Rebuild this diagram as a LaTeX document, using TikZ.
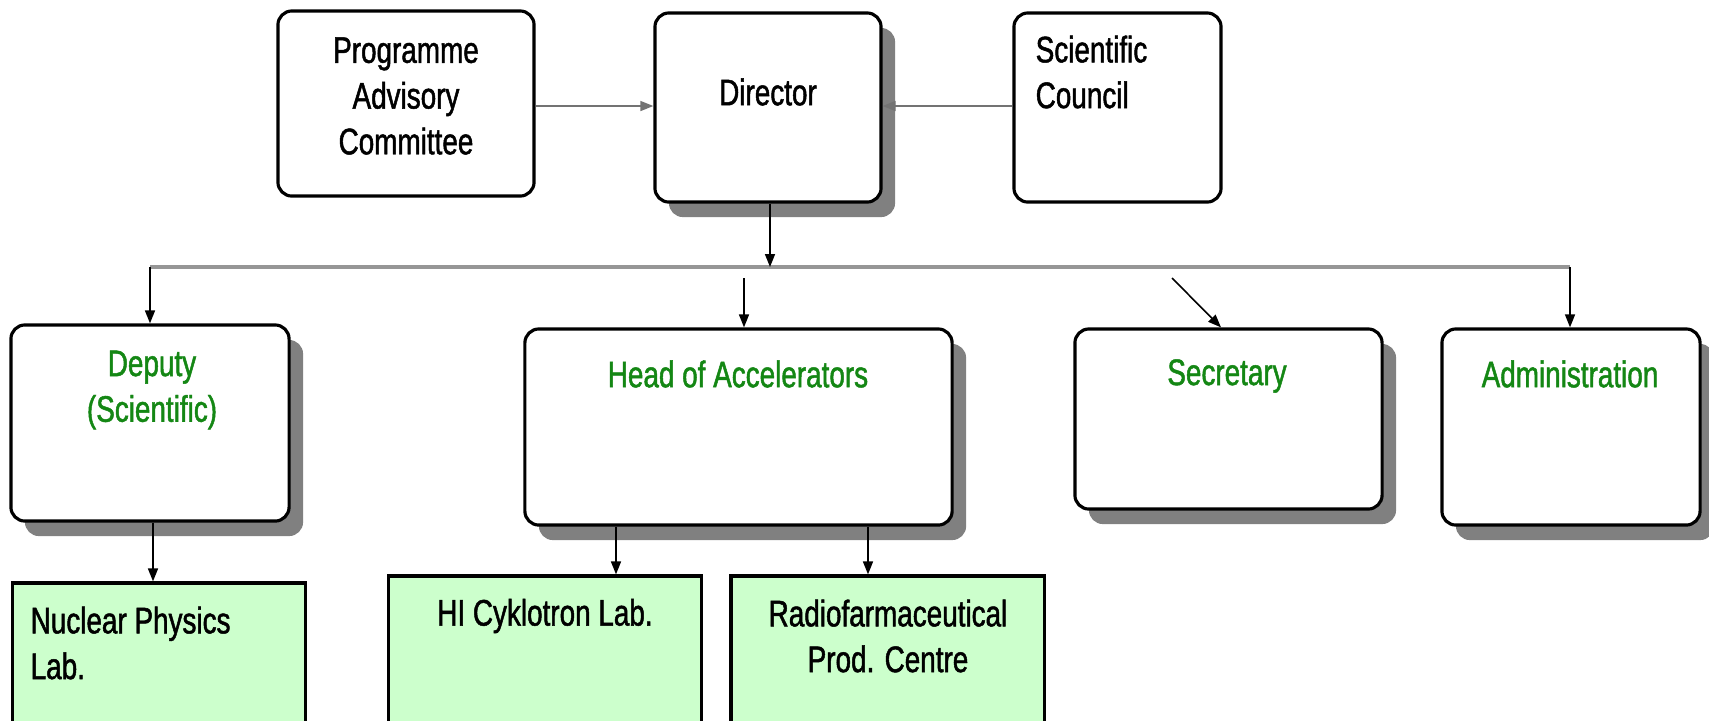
\documentclass[tikz,border=0pt]{standalone}
\usepackage{fontspec}
\setmainfont[FakeStretch=0.755,FakeBold=1.3]{Liberation Sans}
\usetikzlibrary{arrows.meta}
\definecolor{txtgreen}{RGB}{20,135,20}
\definecolor{labgreen}{RGB}{204,255,204}
\definecolor{shadowgray}{RGB}{128,128,128}
\definecolor{busgray}{RGB}{150,150,150}
\tikzset{
  rbox/.style={draw=black, line width=0.9pt, fill=white, rounded corners=0.14cm, inner sep=0pt},
  shbox/.style={rbox, preaction={fill=shadowgray, transform canvas={xshift=0.14cm, yshift=-0.15cm}}},
  labbox/.style={draw=black, line width=0.9pt, fill=labgreen, inner sep=0pt},
  txt/.style={font=\fontsize{10.5}{13}\selectfont, inner sep=0pt},
  gtxt/.style={txt, text=txtgreen},
  conn/.style={line width=0.45pt, -{Triangle[length=1.3mm,width=1mm]}},
  bus/.style={draw=busgray, line width=1.3pt}
}
\begin{document}
\begin{tikzpicture}[x=0.01cm,y=-0.01cm]
\useasboundingbox (0,0) rectangle (1709,720);
\clip (0,0) rectangle (1709,720);
% top row
\node[rbox, minimum width=2.56cm, minimum height=1.85cm] (pac) at (406,103.5) {};
\node[shbox, minimum width=2.26cm, minimum height=1.89cm] (dir) at (768,107.5) {};
\node[rbox, minimum width=2.07cm, minimum height=1.89cm] (sc) at (1117.5,107.5) {};
\node[txt, align=center] (pact) at (406,96) {Programme\\Advisory\\Committee};
\node[txt] (dirt) at (768,92) {Director};
\node[txt, align=left, anchor=west] (sct) at (1035,72) {Scientific\\Council};
% second row
\node[shbox, minimum width=2.78cm, minimum height=1.96cm] (dep) at (150,423) {};
\node[shbox, minimum width=4.27cm, minimum height=1.96cm] (hoa) at (738.5,427) {};
\node[shbox, minimum width=3.07cm, minimum height=1.80cm] (sec) at (1228.5,419) {};
\node[shbox, minimum width=2.58cm, minimum height=1.96cm] (adm) at (1571,427) {};
\node[gtxt, align=center] (dept) at (152,390) {Deputy\\(Scientific)};
\node[gtxt] (hoat) at (738,374) {Head of Accelerators};
\node[gtxt] (sect) at (1227,376) {Secretary};
\node[gtxt] (admt) at (1570,374) {Administration};
% labs
\node[labbox, minimum width=2.92cm, minimum height=1.60cm] (npl) at (159,663) {};
\node[labbox, minimum width=3.12cm, minimum height=1.67cm] (hi) at (545,659.5) {};
\node[labbox, minimum width=3.13cm, minimum height=1.67cm] (rpc) at (887.5,659.5) {};
\node[txt, align=left, anchor=west] (nplt) at (30,643) {Nuclear Physics\\Lab.};
\node[txt] (hit) at (545,616) {HI Cyklotron Lab.};
\node[txt, align=center] (rpct) at (888,636) {Radiofarmaceutical\\Prod. Centre};
% coordinates
\coordinate (busL) at (150,267);
\coordinate (busR) at (1570,267);
\coordinate (busD) at (770,267);
\coordinate (hoaS) at (744,278);
\coordinate (secS) at (1172,278);
% connectors
\draw[conn, draw=black!55] (pac.east |- 0,106) -- (dir.west |- 0,106);
\draw[conn, draw=black!55] (sc.west |- 0,106) -- (dir.east |- 0,106);
\draw[bus] (busL) -- (busR);
\draw[conn] (dir.south -| busD) -- (busD);
\draw[conn] (busL) -- (dep.north -| busL);
\draw[conn] (busR) -- (adm.north -| busR);
\draw[conn] (hoaS) -- (hoa.north -| hoaS);
\draw[conn] (secS) -- (sec.north -| 1221,0);
\draw[conn] (dep.south -| 153,0) -- (npl.north -| 153,0);
\draw[conn] (hoa.south -| 616,0) -- (hi.north -| 616,0);
\draw[conn] (hoa.south -| 868,0) -- (rpc.north -| 868,0);
\end{tikzpicture}
\end{document}
